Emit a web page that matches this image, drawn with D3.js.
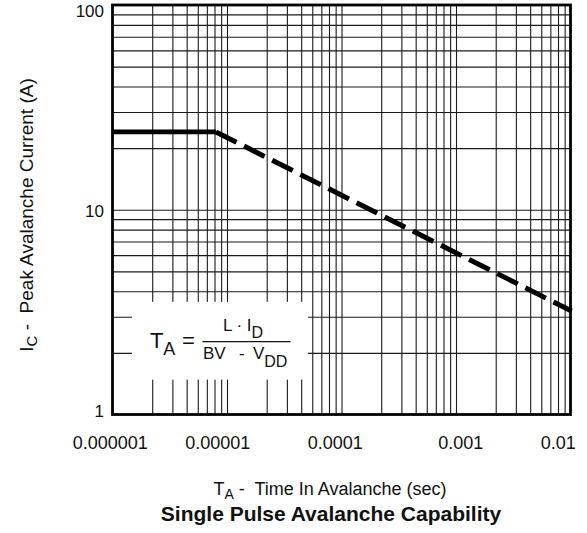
<!DOCTYPE html>
<html>
<head>
<meta charset="utf-8">
<script src="https://cdn.jsdelivr.net/npm/d3@7/dist/d3.min.js"></script>
<style>
  body { margin: 0; background: #fff; }
  text { font-family: "Liberation Sans", Arial, Helvetica, sans-serif; fill: #111; }
</style>
</head>
<body>
<div id="chart"></div>
<script>
// x: time in avalanche (sec), y: peak avalanche current (A)
const decades = [1e-6, 1e-5, 1e-4, 1e-3, 1e-2];
const decadeLabels = ["0.000001", "0.00001", "0.0001", "0.001", "0.01"];
const timeFrame = [9e-7, 9e-3];
const multipliers = [2, 3, 4, 5, 6, 7, 8, 9];

const currentTicks = [1, 10, 100];
const currentLabels = ["1", "10", "100"];
const currentFrame = [1, 100];

// rating curve: flat current limit, then falling (dashed)
const flatTime = [9e-7, 7.2e-6];
const flatCurrent = [24, 24];
const slopeTime = [7.2e-6, 9.2e-3];
const slopeCurrent = [24, 3.2];

// formula box (data units)
const boxTime = [1.33e-6, 4.6e-5];
const boxCurrent = [1.48, 3.55];

const W = 587, H = 533;

const svg = d3.select("#chart").append("svg")
    .attr("width", W)
    .attr("height", H);

const x = d3.scaleLog().domain(timeFrame).range([112.5, 570.5]);
const y = d3.scaleLog().domain(currentFrame).range([414.5, 5]);

const x0 = x(timeFrame[0]), x1 = x(timeFrame[1]);
const y0 = y(currentFrame[0]), y1 = y(currentFrame[1]);

// grid values
const gridX = decades.slice(0, 4)
    .flatMap(d => multipliers.map(m => m * d))
    .filter(v => v < timeFrame[1] * 0.999);
const gridY = [1, 10]
    .flatMap(d => multipliers.concat([10]).map(m => m * d))
    .filter(v => v < currentFrame[1] * 0.999);

const grid = svg.append("g").classed("grid", true);

grid.append("g")
    .attr("transform", `translate(0,${y0})`)
    .call(d3.axisBottom(x).tickValues(gridX).tickSize(-(y0 - y1)).tickFormat(""))
    .call(g => g.select(".domain").remove());

grid.append("g")
    .attr("transform", `translate(${x0},0)`)
    .call(d3.axisLeft(y).tickValues(gridY).tickSize(-(x1 - x0)).tickFormat(""))
    .call(g => g.select(".domain").remove());

grid.selectAll("line")
    .attr("stroke", "#1a1a1a")
    .attr("stroke-width", 1.1);

// white box behind the formula
const bx = x(boxTime[0]), by = y(boxCurrent[1]);
const bw = x(boxTime[1]) - bx, bh = y(boxCurrent[0]) - by;

svg.append("rect")
    .attr("x", bx)
    .attr("y", by)
    .attr("width", bw)
    .attr("height", bh)
    .attr("fill", "#fff");

// curve
const line = d3.line()
    .x(d => x(d[0]))
    .y(d => y(d[1]));

svg.append("path")
    .attr("d", line(d3.zip(flatTime, flatCurrent)))
    .attr("stroke", "#000")
    .attr("stroke-width", 4.8)
    .attr("fill", "none");

svg.append("path")
    .attr("d", line(d3.zip(slopeTime, slopeCurrent)))
    .attr("stroke", "#000")
    .attr("stroke-width", 5)
    .attr("stroke-dasharray", "23 8.5")
    .attr("fill", "none");

// frame
svg.append("rect")
    .attr("x", x0)
    .attr("y", y1)
    .attr("width", x1 - x0)
    .attr("height", y0 - y1)
    .attr("fill", "none")
    .attr("stroke", "#000")
    .attr("stroke-width", 2.8);

// tick labels (the original sets them a little left of the decade)
const xNudge = [-8, -15, -12, -1, -18];
const xAxis = svg.append("g")
    .attr("transform", `translate(0,${y0})`)
    .call(d3.axisBottom(x).tickValues(decades)
        .tickFormat((d, i) => decadeLabels[i]).tickSize(0).tickPadding(0));
xAxis.select(".domain").remove();
xAxis.selectAll("text")
    .attr("y", 34.5)
    .attr("dy", 0)
    .attr("dx", (d, i) => xNudge[i])
    .attr("font-size", 18)
    .attr("font-family", null);

const yAxis = svg.append("g")
    .attr("transform", `translate(${x0},0)`)
    .call(d3.axisLeft(y).tickValues(currentTicks)
        .tickFormat((d, i) => currentLabels[i]).tickSize(0).tickPadding(8.5));
yAxis.select(".domain").remove();
// nudge so the end labels sit inside the picture, as in the original
const yNudge = [-3, 1, 6];
yAxis.selectAll("text")
    .attr("y", (d, i) => yNudge[i])
    .attr("font-size", 17)
    .attr("font-family", null);

svg.selectAll(".tick text").attr("fill", "#111");

// axis titles
const xt = svg.append("text")
    .attr("x", 330)
    .attr("y", 495)
    .attr("text-anchor", "middle")
    .attr("font-size", 18)
    .attr("xml:space", "preserve");
xt.append("tspan").text("T");
xt.append("tspan").attr("font-size", 14).attr("dy", 4).text("A");
xt.append("tspan").attr("dy", -4).text(" -  Time In Avalanche (sec)");

const yt = svg.append("text")
    .attr("transform", "translate(33,215) rotate(-90)")
    .attr("text-anchor", "middle")
    .attr("font-size", 19)
    .attr("xml:space", "preserve");
yt.append("tspan").text("I");
yt.append("tspan").attr("font-size", 15).attr("dy", 4).text("C");
yt.append("tspan").attr("dy", -4).text(" -  Peak Avalanche Current (A)");

svg.append("text")
    .attr("x", 331)
    .attr("y", 521)
    .attr("text-anchor", "middle")
    .attr("font-size", 21)
    .attr("font-weight", "bold")
    .text("Single Pulse Avalanche Capability");

// formula
const f = svg.append("g").attr("transform", `translate(${bx},${by})`);

const ta = f.append("text").attr("x", 18).attr("y", 46).attr("font-size", 22);
ta.append("tspan").text("T");
ta.append("tspan").attr("font-size", 18).attr("dy", 7).text("A");

f.append("text").attr("x", 50).attr("y", 46).attr("font-size", 22).text("=");

f.append("line")
    .attr("x1", 70.5).attr("x2", 158.5)
    .attr("y1", 39.7).attr("y2", 39.7)
    .attr("stroke", "#111")
    .attr("stroke-width", 1.3);

const num = f.append("text").attr("x", 91).attr("y", 29).attr("font-size", 17)
    .attr("xml:space", "preserve");
num.append("tspan").text("L · I");
num.append("tspan").attr("font-size", 16).attr("dy", 7).text("D");

f.append("text").attr("x", 71).attr("y", 57).attr("font-size", 17).text("BV");
f.append("text").attr("x", 107).attr("y", 57).attr("font-size", 17).text("-");
const vdd = f.append("text").attr("x", 121).attr("y", 57).attr("font-size", 17);
vdd.append("tspan").text("V");
vdd.append("tspan").attr("font-size", 16).attr("dy", 8).text("DD");
</script>
</body>
</html>
